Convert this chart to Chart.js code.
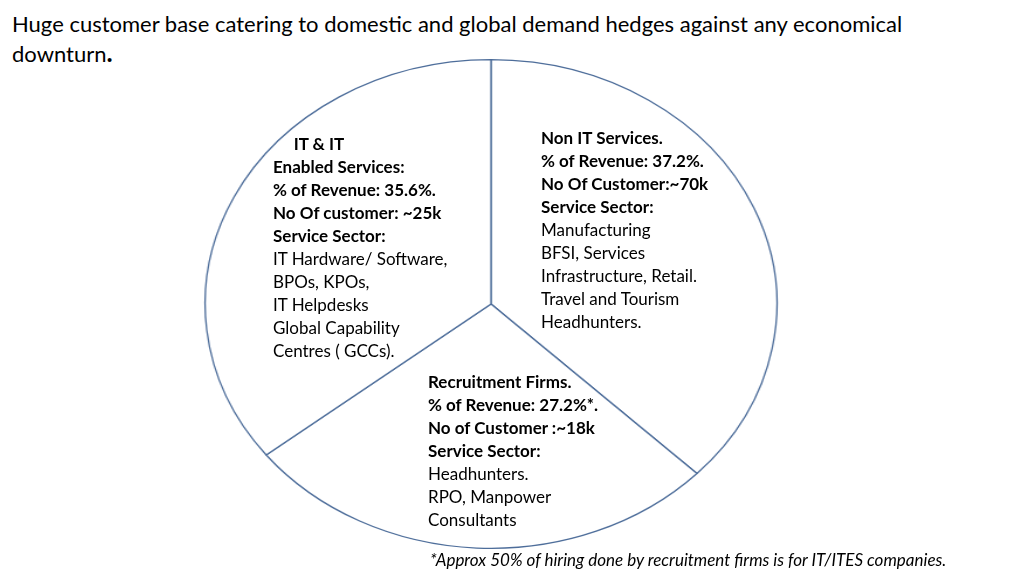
<!DOCTYPE html>
<html><head><meta charset="utf-8">
<script src="https://cdn.jsdelivr.net/npm/chart.js@4"></script>
<style>
  body { margin: 0; width: 1024px; height: 575px; background: #fff; font-family: Lato, "Open Sans", sans-serif; color: #000; position: relative; overflow: hidden; }
  #title { position: absolute; left: 12px; top: 10px; font-size: 22px; line-height: 28px; width: 990px; }
  #wrap { position: absolute; left: 245px; top: 58px; width: 492px; height: 492px; transform: scaleX(1.17); transform-origin: 246px 246px; }
  .blk { position: absolute; font-size: 17px; line-height: 23px; }
  .blk b { font-weight: 700; }
  #foot { position: absolute; left: 430px; top: 549px; font-size: 17px; font-style: italic; }
</style></head>
<body>
<div id="title">Huge customer base catering to domestic and global demand hedges against any economical downturn<b style="font-size:26px">.</b></div>
<div id="wrap"><canvas id="pie" width="492" height="492"></canvas></div>
<div id="blocks"></div>
<div id="foot">*Approx 50% of hiring done by recruitment firms is for IT/ITES companies.</div>
<script>
const segments = ["Non IT Services", "Recruitment Firms", "IT & IT Enabled Services"];
const revenueShare = [37.2, 27.2, 35.6];

const labelBlocks = [
  { x: 273, y: 132, bold: ["&nbsp;&nbsp;&nbsp;&nbsp;&nbsp;IT &amp; IT", "Enabled Services:", "% of Revenue: 35.6%.", "No Of customer: ~25k", "Service Sector:"],
    text: ["IT Hardware/ Software,", "BPOs, KPOs,", "IT Helpdesks", "Global Capability", "Centres ( GCCs)."] },
  { x: 541, y: 126, bold: ["Non IT Services.", "% of Revenue: 37.2%.", "No Of Customer:~70k", "Service Sector:"],
    text: ["Manufacturing", "BFSI, Services", "Infrastructure, Retail.", "Travel and Tourism", "Headhunters."] },
  { x: 428, y: 370, bold: ["Recruitment Firms.", "% of Revenue: 27.2%*.", "No of Customer :~18k", "Service Sector:"],
    text: ["Headhunters.", "RPO, Manpower", "Consultants"] },
];

document.getElementById("blocks").innerHTML = labelBlocks.map((b) =>
  `<div class="blk" style="left:${b.x}px;top:${b.y}px">` +
  b.bold.map((l) => `<b>${l}</b>`).join("<br>") + "<br>" + b.text.join("<br>") + "</div>"
).join("");

new Chart(document.getElementById("pie"), {
  type: "pie",
  data: {
    labels: segments,
    datasets: [{
      data: revenueShare,
      backgroundColor: "#ffffff",
      borderColor: "#4d6d9a",
      borderWidth: 1.3,
    }],
  },
  options: {
    responsive: false,
    animation: false,
    layout: { padding: 1 },
    plugins: { legend: { display: false }, tooltip: { enabled: false } },
  },
});
</script>
</body></html>
